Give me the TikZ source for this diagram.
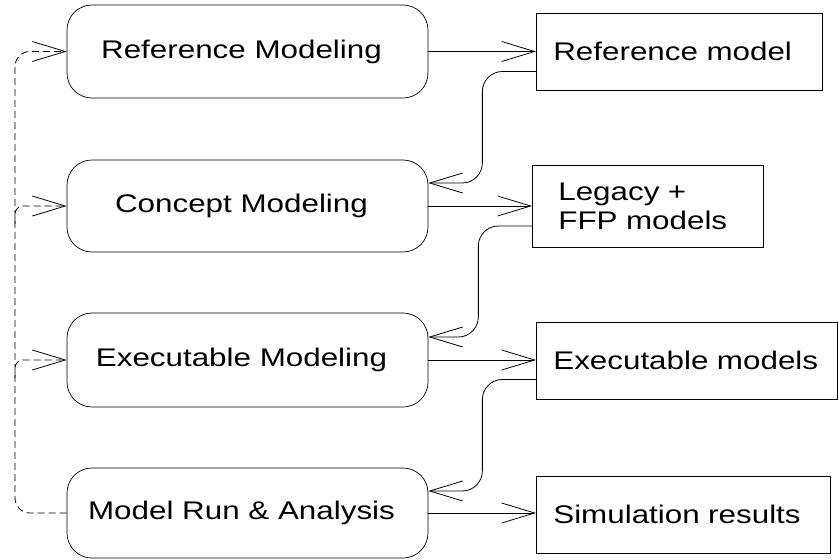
\documentclass[tikz,border=0pt]{standalone}
\usepackage{fontspec}
\setmainfont[FakeStretch=1.23]{Liberation Sans}
\usetikzlibrary{positioning,arrows.meta}

\begin{document}
\begin{tikzpicture}[
    x=1pt, y=-1pt,
    stepbox/.style={%
      draw=black,
      line width=0.7pt,
      rounded corners=25pt,
      minimum width=361pt,
      inner sep=0pt,
      font=\fontsize{25.5}{29}\selectfont,
    },
    product/.style={%
      draw=black,
      line width=0.7pt,
      rectangle,
      anchor=west,
      align=left,
      inner xsep=17pt,
      inner ysep=0pt,
      minimum height=77pt,
      font=\fontsize{25.5}{29}\selectfont,
    },
    flow/.style={%
      line width=0.8pt,
      -{Straight Barb[length=33pt,width=20pt]},
    },
    back/.style={flow, rounded corners=20pt},
    rerun/.style={flow, dash pattern=on 7pt off 4pt, rounded corners=15pt},
  ]
    \useasboundingbox (0,0) rectangle (839,560);

    \node [stepbox, minimum height=93pt] (refMod) at (247.5,51.5) {Reference Modeling\hspace*{12pt}};
    \node [stepbox, minimum height=92pt] (conMod) at (247.5,206) {Concept Modeling\hspace*{12pt}};
    \node [stepbox, minimum height=94pt] (exeMod) at (247.5,360) {Executable Modeling\hspace*{12pt}};
    \node [stepbox, minimum height=90pt] (runMod) at (247.5,513) {Model Run \& Analysis\hspace*{12pt}};

    \node [product, text width=252pt] (refOut) at (536,51.5) {Reference model};
    \node [product, text width=179pt, inner xsep=26pt, minimum height=82pt] (legOut) at (532,206) {Legacy +\\FFP models};
    \node [product, text width=267pt] (exeOut) at (536,360.5) {Executable models};
    \node [product, text width=260pt] (simOut) at (536,514.5) {Simulation results};

    \coordinate (rail) at (15,513);

    \draw [flow] (refMod.east) -- (refMod.east -| refOut.west);
    \draw [flow] (conMod.east) -- (conMod.east -| legOut.west);
    \draw [flow] (exeMod.east) -- (exeMod.east -| exeOut.west);
    \draw [flow] (runMod.east) -- (runMod.east -| simOut.west);

    \draw [back] ([yshift=-20pt]refOut.west) -| ([xshift=54pt,yshift=23pt]conMod.east) -- ([yshift=23pt]conMod.east);
    \draw [back] ([yshift=-20pt]legOut.west) -| ([xshift=50pt,yshift=23pt]exeMod.east) -- ([yshift=23pt]exeMod.east);
    \draw [back] ([yshift=-19pt]exeOut.west) -| ([xshift=54pt,yshift=22pt]runMod.east) -- ([yshift=22pt]runMod.east);

    \draw [rerun] (runMod.west) -- (runMod.west -| rail) |- (refMod.west);
    \draw [rerun, rounded corners=8pt] ([yshift=-18pt]conMod.west -| rail) |- (conMod.west);
    \draw [rerun, rounded corners=8pt] ([yshift=-18pt]exeMod.west -| rail) |- (exeMod.west);
\end{tikzpicture}
\end{document}
